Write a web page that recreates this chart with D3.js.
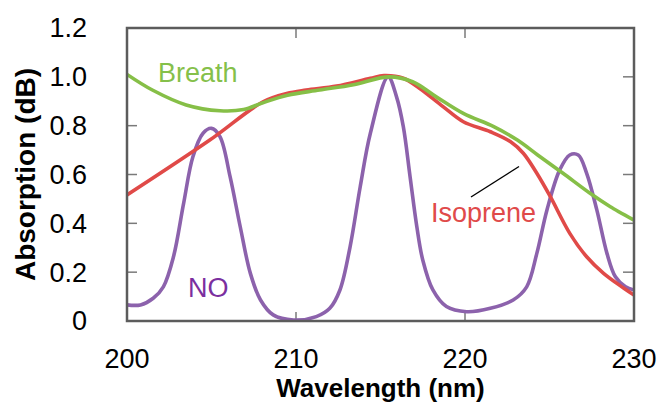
<!DOCTYPE html>
<html>
<head>
<meta charset="utf-8">
<script src="https://cdn.jsdelivr.net/npm/d3@7"></script>
<style>
  html, body { margin: 0; padding: 0; background: #fff; }
  svg { display: block; }
  text { font-family: "Liberation Sans", Arial, sans-serif; }
</style>
</head>
<body>
<svg id="chart" width="662" height="403"></svg>
<script>
// Absorption spectra (dB) vs wavelength (nm)
const breathWl  = [200, 201.5, 203.5, 205.5, 206.9, 208, 209.5, 211.4, 213.4, 215.5, 216.9, 218.3, 219.9, 221.7, 223.1, 224.3, 225.8, 227.4, 228.6, 230];
const breathAbs = [1.01, 0.946, 0.885, 0.861, 0.866, 0.893, 0.925, 0.946, 0.968, 1.0, 0.98, 0.918, 0.85, 0.796, 0.741, 0.68, 0.605, 0.523, 0.468, 0.413];

const isopreneWl  = [200, 204.9, 208.05, 209.45, 210.6, 212.4, 214.4, 215.2, 216.35, 217.3, 218.7, 219.9, 221.5, 222.7, 223.45, 224.25, 225.05, 226.2, 227.2, 228.2, 229.4, 230];
const isopreneAbs = [0.516, 0.741, 0.898, 0.932, 0.946, 0.962, 0.994, 1.005, 0.994, 0.953, 0.878, 0.816, 0.775, 0.734, 0.687, 0.605, 0.509, 0.359, 0.263, 0.195, 0.134, 0.106];

const noWl  = [200, 200.8, 201.55, 202.15, 202.75, 203.35, 203.9, 204.5, 205.0, 205.5, 206.1, 206.7, 207.3, 207.9, 208.65, 209.85, 211.2, 212.0, 212.6, 213.2, 213.8, 214.4, 215.45, 215.95, 216.35, 216.75, 217.15, 217.5, 218.1, 218.9, 220.1, 221.5, 222.85, 223.65, 224.25, 224.85, 225.6, 226.2, 226.7, 227.2, 227.8, 228.4, 228.9, 229.5, 230];
const noAbs = [0.066, 0.066, 0.093, 0.14, 0.263, 0.482, 0.673, 0.769, 0.789, 0.755, 0.591, 0.386, 0.195, 0.086, 0.025, 0.004, 0.018, 0.052, 0.127, 0.304, 0.55, 0.769, 1.0, 0.918, 0.796, 0.591, 0.386, 0.25, 0.127, 0.059, 0.038, 0.052, 0.086, 0.14, 0.277, 0.455, 0.618, 0.68, 0.68, 0.605, 0.455, 0.277, 0.181, 0.14, 0.127];

const xTicks = [200, 210, 220, 230];
const yTicks = [0, 0.2, 0.4, 0.6, 0.8, 1.0, 1.2];
const yTickLabels = ["0", "0.2", "0.4", "0.6", "0.8", "1.0", "1.2"];

const series = [
  { name: "Breath",   wl: breathWl,   abs: breathAbs,   color: "#86bf47" },
  { name: "Isoprene", wl: isopreneWl, abs: isopreneAbs, color: "#e04a48" },
  { name: "NO",       wl: noWl,       abs: noAbs,       color: "#8c62ac" }
];

const svg = d3.select("#chart");
const plot = { left: 127, right: 634, top: 28, bottom: 321 };

const x = d3.scaleLinear().domain([200, 230]).range([plot.left, plot.right]);
const y = d3.scaleLinear().domain([0, 1.2]).range([plot.bottom, plot.top]);

const frameColor = "#5c5c5c";

// inner tick marks on all four sides
const ticks = svg.append("g").attr("stroke", "#7a7a7a").attr("stroke-width", 1.5);
[0.2, 0.4, 0.6, 0.8].forEach(v => {
  ticks.append("line").attr("x1", x(200)).attr("x2", x(200) + 10).attr("y1", y(v)).attr("y2", y(v));
});
[0.2, 0.4, 0.6, 0.8, 1.0].forEach(v => {
  ticks.append("line").attr("x1", x(230)).attr("x2", x(230) - 11).attr("y1", y(v)).attr("y2", y(v));
});
[210, 220].forEach(w => {
  ticks.append("line").attr("x1", x(w)).attr("x2", x(w)).attr("y1", y(1.2)).attr("y2", y(1.2) + 10);
  ticks.append("line").attr("x1", x(w)).attr("x2", x(w)).attr("y1", y(0)).attr("y2", y(0) - 9);
});

// curves
svg.append("clipPath").attr("id", "plotClip")
  .append("rect").attr("x", plot.left).attr("y", plot.top - 5)
  .attr("width", plot.right - plot.left).attr("height", plot.bottom - plot.top + 5);

const line = d3.line().x(d => x(d[0])).y(d => y(d[1])).curve(d3.curveCatmullRom.alpha(0.5));

const drawOrder = [series[2], series[1], series[0]];
svg.append("g").attr("clip-path", "url(#plotClip)")
  .selectAll("path").data(drawOrder).join("path")
  .attr("d", s => line(d3.zip(s.wl, s.abs)))
  .attr("fill", "none")
  .attr("stroke", s => s.color)
  .attr("stroke-width", 3.6)
  .attr("stroke-linejoin", "round")
  .attr("stroke-linecap", "round");

// frame
svg.append("rect")
  .attr("x", plot.left).attr("y", plot.top)
  .attr("width", plot.right - plot.left).attr("height", plot.bottom - plot.top)
  .attr("fill", "none").attr("stroke", frameColor).attr("stroke-width", 2.5);

// tick labels
svg.append("g").selectAll("text").data(yTicks).join("text")
  .attr("x", 87).attr("y", d => y(d)).attr("dy", "0.35em")
  .attr("text-anchor", "end").attr("font-size", 27).attr("fill", "#000")
  .text((d, i) => yTickLabels[i]);

svg.append("g").selectAll("text").data(xTicks).join("text")
  .attr("x", d => x(d)).attr("y", 368)
  .attr("text-anchor", "middle").attr("font-size", 27).attr("fill", "#000")
  .text(d => d);

// axis titles
svg.append("text")
  .attr("x", (plot.left + plot.right) / 2).attr("y", 397)
  .attr("text-anchor", "middle").attr("font-size", 26).attr("font-weight", "bold")
  .text("Wavelength (nm)");

svg.append("text")
  .attr("transform", `translate(35, ${(plot.top + plot.bottom) / 2}) rotate(-90)`)
  .attr("text-anchor", "middle").attr("font-size", 28).attr("font-weight", "bold")
  .text("Absorption (dB)");

// series labels
svg.append("text").attr("x", 158).attr("y", 82).attr("font-size", 27)
  .attr("fill", "#85c04a").text("Breath");
svg.append("text").attr("x", 431).attr("y", 222).attr("font-size", 27)
  .attr("fill", "#e04a4a").text("Isoprene");
svg.append("text").attr("x", 188).attr("y", 297).attr("font-size", 27)
  .attr("fill", "#7b2f9f").text("NO");

// leader from the Isoprene label to its curve
svg.append("line")
  .attr("x1", 471).attr("y1", 197).attr("x2", 519).attr("y2", 166.5)
  .attr("stroke", "#000").attr("stroke-width", 1.4);
</script>
</body>
</html>
